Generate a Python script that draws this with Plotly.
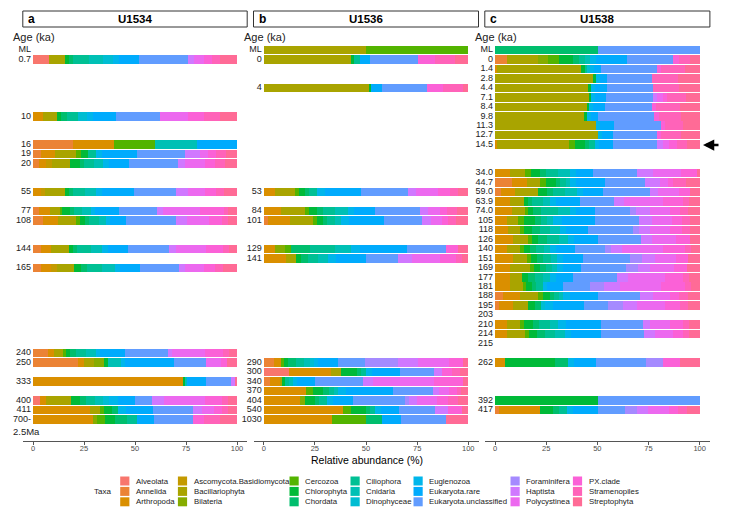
import math
import plotly.graph_objects as go

TAXA = ["Alveolata", "Annelida", "Arthropoda", "Ascomycota.Basidiomycota",
        "Bacillariophyta", "Bilateria", "Cercozoa", "Chlorophyta", "Chordata",
        "Ciliophora", "Cnidaria", "Dinophyceae", "Euglenozoa", "Eukaryota.rare",
        "Eukaryota.unclassified", "Foraminifera", "Haptista", "Polycystinea",
        "PX.clade", "Stramenopiles", "Streptophyta"]

# y slots of each site ("" = empty row)
A_LEVELS = ["ML", "0.7", "", "", "", "", "", "10", "", "", "16", "19", "20", "", "",
            "55", "", "77", "108", "", "", "144", "", "165", "", "", "", "", "", "",
            "", "", "240", "250", "", "333", "", "400", "411", "700-", ""]
B_LEVELS = ["ML", "0", "", "", "4", "", "", "", "", "", "", "", "", "", "",
            "53", "", "84", "101", "", "", "129", "141", "", "", "", "", "", "", "",
            "", "", "", "290", "300", "340", "370", "404", "540", "1030", ""]
C_LEVELS = ["ML", "0", "1.4", "2.8", "4.4", "7.1", "8.4", "9.8", "11.3", "12.7", "14.5",
            "", "", "34.0", "44.7", "59.0", "63.9", "74.0", "105", "118", "126", "140",
            "151", "169", "177", "181", "188", "195", "203", "210", "214", "215", "",
            "262", "", "", "", "392", "417", "", ""]

# relative abundance (%) per sample, columns in TAXA order
A_AGES = ["0.7", "10", "16", "19", "20", "55", "77", "108", "144", "165",
          "240", "250", "333", "400", "411", "700-"]
A_VALUES = [
    [7.7, 0, 0, 0, 7.8, 0, 0, 2, 2, 8, 7, 4.7, 3, 9.7, 24, 0, 3, 5, 4, 4, 8.1],
    [0, 0, 4.9, 0, 6.9, 0, 0, 2.1, 3, 5, 0, 4.6, 3, 11.4, 21.3, 0, 0, 14, 7.6, 8, 8.2],
    [0, 19.6, 20.2, 0, 0, 0, 20.2, 0, 0, 0, 20.2, 0, 0, 19.8, 0, 0, 0, 0, 0, 0, 0],
    [0, 4, 6.6, 0, 10.7, 0, 2, 3.7, 0, 4, 0, 0, 3, 17.2, 23.4, 0, 7.2, 4, 4, 5, 5.2],
    [0, 3, 3.5, 3, 8.5, 0, 0, 4.9, 2, 5, 4.5, 0, 2.7, 10, 23.8, 0, 3.6, 10, 4.7, 5, 5.8],
    [0, 0, 4.1, 2, 9.4, 0, 0, 2, 2.1, 6, 5.4, 0, 3, 15.4, 20.5, 0, 6.2, 8, 5.6, 4, 6.3],
    [0, 3, 5.2, 0, 4.9, 0, 1, 3.9, 2, 4, 4.6, 0, 2, 11.6, 18.7, 0, 3, 18, 11.7, 2, 4.4],
    [0, 5, 7.3, 0, 9, 0, 1.5, 2.6, 2, 5, 3.3, 0, 2, 7.8, 24.4, 0, 5.4, 11, 6.5, 3, 4.2],
    [0, 4, 5, 0, 8.5, 0, 0, 2.1, 2, 7, 5, 0, 3, 10, 20.2, 0, 3.2, 15, 8, 3, 4],
    [0, 4, 4.7, 3, 8.3, 0, 0, 3.7, 3, 7, 6.4, 0, 2.3, 10, 19.3, 0, 3, 9, 5.5, 4, 6.8],
    [0, 7.4, 3, 0, 4.3, 0, 1.3, 2, 3, 5, 5, 0, 2, 12, 21.3, 0, 2, 16, 8.7, 3, 4],
    [0, 22, 3, 0, 5, 5, 0, 2, 0, 0, 6, 0, 2, 24, 16, 0, 0, 7, 3, 0, 5],
    [0, 0, 73.3, 0, 0, 0, 0, 1.5, 0, 0, 0.8, 0, 0, 9.2, 12.2, 0, 2, 0, 0, 0, 1],
    [3.3, 0, 3.2, 0, 12.3, 0, 0, 4.1, 3, 4.5, 4, 3, 4.3, 8.2, 8.2, 0, 6, 20, 8.4, 3, 4.5],
    [0, 0, 27.8, 0, 4.9, 0, 2, 3.8, 3.2, 0, 0, 0, 4, 12.9, 20, 0, 4, 6, 3.9, 3, 4.5],
    [0, 0, 29.5, 0, 0, 2, 3.7, 4.9, 6, 5, 0, 0, 0, 8.1, 19, 0, 0, 0, 5.6, 8, 8.2],
]

B_AGES = ["ML", "0", "4", "53", "84", "101", "129", "141",
          "290", "300", "340", "370", "404", "540", "1030"]
B_VALUES = [
    [0, 0, 0, 0, 49.9, 0, 50.1, 0, 0, 0, 0, 0, 0, 0, 0, 0, 0, 0, 0, 0, 0],
    [0, 0, 0, 0, 42.6, 0, 0, 1.6, 0, 2.8, 0, 0, 0, 4.9, 23.6, 0, 0, 0, 8, 10, 6.5],
    [0, 0, 0, 0, 51.5, 0, 0, 0.9, 0, 0, 0, 0, 0, 5.2, 22, 0, 0, 0, 8, 9.9, 2.5],
    [0, 0, 5.4, 0, 9.8, 0, 2, 2.9, 2, 3.7, 0, 0, 4, 17.7, 22.8, 0, 4, 11, 5.7, 4, 5],
    [0, 0, 8.6, 0, 11.5, 0, 2, 3.7, 3, 6, 6.5, 0, 3, 10, 22, 0, 4.1, 6, 3, 5, 5.6],
    [0, 2.1, 10.6, 0, 11.4, 0, 2, 2.9, 2, 3.7, 3, 0, 4, 17, 18.8, 0, 4.5, 5, 3.2, 4, 5.8],
    [0, 0, 5.7, 0, 0, 4.6, 3.2, 0, 9, 12.2, 8.2, 0, 4, 22.9, 19.1, 0, 0, 0, 5.9, 0, 5.2],
    [0, 0, 11.1, 0, 4.9, 0, 0, 2.4, 3, 5, 4.8, 0, 4, 15, 15.2, 0, 6.9, 14, 7.5, 3, 3.2],
    [0, 5.1, 3.5, 0, 0, 0, 1.5, 1.8, 4, 3.6, 3, 2, 2, 9.9, 13, 16, 10.1, 15, 6.7, 0, 2.8],
    [12.2, 0, 20.9, 0, 4.6, 0, 0, 7.7, 2, 2.4, 0, 0, 3, 13.8, 16.8, 0, 3.6, 0, 4.8, 4, 4.2],
    [0, 3, 4.8, 0, 1.2, 0, 0, 1.3, 0, 2, 2.1, 0, 2, 8.6, 23.3, 0, 5, 30, 14.3, 0, 2.4],
    [0, 0, 20.9, 0, 0, 0, 3, 5.1, 3, 2.4, 2, 0, 4, 22.9, 19.6, 0, 2.7, 5, 3.7, 2, 3.7],
    [0, 0, 17.6, 0, 0, 2.5, 0, 4.9, 2, 3.7, 0, 0, 3, 10, 25.3, 2, 3.7, 10, 5.2, 5, 5.1],
    [0, 0, 38.8, 0, 0, 0, 4, 7, 2, 2.5, 0, 0, 3, 8.8, 17.6, 0, 6.5, 0, 6.5, 0, 3.3],
    [0, 0, 33.4, 0, 0, 0, 16.4, 0, 7.8, 0, 0, 0, 0, 9.4, 21.9, 0, 0, 0, 0, 0, 11.1],
]

C_AGES = ["ML", "0", "1.4", "2.8", "4.4", "7.1", "8.4", "9.8", "11.3", "12.7", "14.5",
          "34.0", "44.7", "59.0", "63.9", "74.0", "105", "118", "126", "140", "151",
          "169", "177", "181", "188", "195", "210", "214", "262", "392", "417"]
C_VALUES = [
    [0, 0, 0, 0, 0, 0, 0, 0, 50.2, 0, 0, 0, 0, 0, 49.8, 0, 0, 0, 0, 0, 0],
    [0, 5.7, 0, 0, 15.5, 4.9, 5, 6.8, 3, 3, 2.5, 0, 3, 14.9, 22.5, 0, 0, 0, 3, 5.5, 4.7],
    [0, 0, 0.8, 0, 41.2, 0, 0, 2, 0, 1, 0, 1.6, 2, 3, 27.4, 0, 0, 0, 2, 12, 7],
    [0, 0, 0, 0, 48, 0, 0, 1.3, 0, 0, 0, 0, 2, 3.6, 21.6, 0, 0, 0, 0, 13, 10.5],
    [0, 0, 0, 0, 45.6, 0, 0, 1.1, 0, 0, 0, 0, 2, 5.9, 22.4, 0, 0, 0, 0, 13, 10],
    [0, 0, 0, 0, 45.9, 0, 0, 0.8, 0, 0, 0, 0, 2, 5.5, 22.8, 0, 2, 3.2, 2, 9, 6.8],
    [0, 0, 0, 0, 44.8, 0, 0, 1.3, 0, 0, 0, 0, 2, 5.6, 22.8, 0, 0, 0, 2, 12, 9.5],
    [0, 0, 0, 0, 43.6, 0, 0, 1.2, 0, 0, 0, 0, 2, 3.7, 27.4, 0, 0, 0, 2, 11, 9.1],
    [0, 0, 0, 0, 49.3, 0, 0, 0, 0, 0, 0, 0, 2, 7, 22.6, 0, 0, 0, 2, 9, 8.1],
    [0, 0, 0, 0, 50.2, 0, 0, 0, 0, 0, 0, 0, 2, 5.3, 21.5, 0, 0, 0, 2, 10, 9],
    [0, 0, 0.8, 0, 35.5, 0, 3, 4.7, 2, 2.9, 0, 0, 2, 6.6, 21.5, 0, 3.2, 3, 3.6, 5, 6.2],
    [0, 0, 7.3, 0, 7.4, 0, 3, 4.3, 3, 6, 5.6, 0, 3, 8.1, 21.5, 0, 7.8, 14, 7.5, 0, 1.5],
    [0, 8.1, 7.4, 0, 6.5, 0, 3, 4.8, 2, 2.8, 2, 0, 3, 14.1, 19.6, 0, 7.3, 4, 2.5, 6, 6.9],
    [0, 3, 6.8, 0, 11.4, 0, 0, 4, 3, 6, 5.7, 0, 3, 10, 22.8, 0, 4.1, 10, 5.5, 0, 4.7],
    [0, 0, 7.3, 0, 6.9, 0, 0, 2.1, 2, 5, 3.6, 0, 3, 11.6, 16.6, 0, 4.9, 19, 10, 3, 5],
    [0, 0, 8.1, 0, 6.6, 0, 1.5, 2.5, 4, 8, 5.9, 0, 3, 9.3, 17.1, 3, 6.7, 10, 4.7, 4, 5.6],
    [0, 0, 5.7, 0, 5.7, 0, 3, 5.1, 3, 3, 3, 0, 4, 16.4, 21.6, 0, 6, 10, 4.7, 4, 4.8],
    [0, 0, 6.5, 0, 5.7, 0, 2, 3.7, 4, 5, 4.9, 0, 3, 10.8, 21.7, 3, 5.4, 10, 5.5, 4, 4.8],
    [0, 0, 9, 0, 7.3, 0, 2, 2.9, 4, 6, 4.6, 0, 3, 11.7, 20.7, 0, 5.3, 12, 6.8, 0, 4.7],
    [0, 0, 5.7, 0, 6.5, 0, 2, 2.9, 3, 4, 2.8, 0, 3, 9.2, 14.6, 3, 5.2, 20, 10.9, 3, 4.2],
    [0, 0, 9, 0, 6.5, 0, 2, 2.9, 3, 4, 2.7, 0, 3, 10.1, 22.8, 6, 6.2, 10, 6.3, 0, 5.5],
    [0, 0, 7.3, 0, 9.8, 0, 2, 2.9, 3, 3, 2.1, 0, 3, 8.8, 22.1, 6, 5.7, 12, 5.9, 0, 6.4],
    [0, 0, 7.3, 0, 5.7, 0, 0, 3.3, 3, 4, 3.6, 0, 3, 8.4, 21.1, 0, 5.7, 18, 8.9, 3, 5],
    [0, 0, 7.3, 0, 6.5, 0, 1.5, 2.6, 2, 3.7, 0, 0, 2, 7.8, 13, 7, 7.7, 20, 11.7, 3, 4.2],
    [0, 4, 8.2, 0, 9, 0, 2, 3.7, 2, 2.5, 2, 0, 3, 13.8, 20.6, 0, 6.6, 8, 4.7, 4, 5.9],
    [0, 2, 7, 0, 7.3, 0, 0, 3, 3, 0, 0, 2, 4, 15.2, 11.9, 7, 6.8, 14, 7.2, 4, 5.6],
    [0, 0, 5.7, 0, 6.5, 0, 2, 4.5, 3, 5, 4.2, 0, 4, 16.7, 20.5, 0, 3.6, 10, 6.3, 3, 5],
    [0, 0, 5.7, 0, 9, 0, 2, 3.7, 4, 5, 4.8, 0, 3, 14.4, 21.2, 0, 5.4, 9, 4.8, 3, 5],
    [0, 0, 4.9, 0, 0, 0, 0, 24.4, 6.5, 0, 0, 0, 3, 10.5, 24.5, 8.4, 0, 0, 8.2, 0, 9.6],
    [0, 0, 0, 0, 0, 0, 0, 50.2, 0, 0, 0, 0, 0, 0, 49.8, 0, 0, 0, 0, 0, 0],
    [0, 2, 20, 0, 0, 0, 0, 6.5, 3, 3.5, 0, 0, 3, 12.2, 13.3, 6, 5.4, 10, 4.7, 4, 6.4],
]

PANELS = [("a", "U1534", A_LEVELS, A_AGES, A_VALUES),
          ("b", "U1536", B_LEVELS, B_AGES, B_VALUES),
          ("c", "U1538", C_LEVELS, C_AGES, C_VALUES)]

# page body has an 8px margin, so the figure is placed 8px in
OFF = 8
W, H = 737 - OFF, 511 - OFF
FONT = "Liberation Sans, Arial, sans-serif"


def hue_pal(n, c=100, l=65):
    # ggplot2 default discrete palette (hcl, CIE-LUV)
    xn, yn, zn = 95.047, 100.0, 108.883
    un = 4 * xn / (xn + 15 * yn + 3 * zn)
    vn = 9 * yn / (xn + 15 * yn + 3 * zn)
    out = []
    for i in range(n):
        h = math.radians(15 + 360 * i / n)
        u = c * math.cos(h) / (13 * l) + un
        v = c * math.sin(h) / (13 * l) + vn
        y = yn * ((l + 16) / 116) ** 3
        x = 9 * y * u / (4 * v)
        z = y * (12 - 3 * u - 20 * v) / (4 * v)
        x, y, z = x / 100, y / 100, z / 100
        rgb = [3.240479 * x - 1.537150 * y - 0.498535 * z,
               -0.969256 * x + 1.875992 * y + 0.041556 * z,
               0.055648 * x - 0.204043 * y + 1.057311 * z]
        res = []
        for ch in rgb:
            ch = 12.92 * ch if ch <= 0.0031308 else 1.055 * ch ** (1 / 2.4) - 0.055
            res.append(int(round(min(max(ch, 0), 1) * 255)))
        out.append("#%02X%02X%02X" % tuple(res))
    return out


COLORS = hue_pal(len(TAXA))


def px_x(x):
    return (x - OFF) / W


def px_y(y):
    return 1 - (y - OFF) / H


x_doms = [(22.8, 247.2), (253.5, 478.5), (484.8, 709.9)]
y_dom = [px_y(440.7), px_y(28)]

fig = go.Figure()
shapes = []
annotations = []

for k, (letter, site, levels, ages, values) in enumerate(PANELS):
    ax = "" if k == 0 else str(k + 1)
    slots = [levels.index(a) for a in ages]
    for j, taxon in enumerate(TAXA):
        fig.add_trace(go.Bar(
            x=[row[j] for row in values], y=slots, orientation="h",
            width=0.9, name=taxon, marker=dict(color=COLORS[j], line=dict(width=0)),
            showlegend=False, xaxis="x" + ax, yaxis="y" + ax,
            hovertemplate=taxon + ": %{x}%<extra></extra>"))
    lab_y = [i for i, s in enumerate(levels) if s]
    fig.add_trace(go.Scatter(
        x=[-1] * len(lab_y), y=lab_y, text=[levels[i] for i in lab_y],
        mode="text", textposition="middle left", cliponaxis=False,
        textfont=dict(family=FONT, size=9, color="#222222"),
        showlegend=False, hoverinfo="skip", xaxis="x" + ax, yaxis="y" + ax))

    d0, d1 = x_doms[k]
    fig.update_layout(**{
        "xaxis" + ax: dict(domain=[px_x(d0), px_x(d1)], range=[-5, 105],
                           tickvals=[0, 25, 50, 75, 100], showline=True,
                           linecolor="#555555", linewidth=1, ticks="outside",
                           ticklen=3, tickcolor="#555555", showgrid=False,
                           ticklabelstandoff=-3,
                           zeroline=False, anchor="y" + ax, automargin=False,
                           tickfont=dict(family=FONT, size=7.5, color="#4d4d4d")),
        "yaxis" + ax: dict(domain=y_dom, range=[41.26, -2.32], visible=False,
                           anchor="x" + ax, automargin=False),
    })

    # strip header
    shapes.append(dict(type="rect", xref="paper", yref="paper",
                       x0=px_x(d0), x1=px_x(d1), y0=px_y(27), y1=px_y(11),
                       line=dict(color="#333333", width=1), fillcolor="white"))
    annotations.append(dict(text="<b>%s</b>" % letter, xref="paper", yref="paper",
                            x=px_x(d0 + 3), y=px_y(19), xanchor="left", yanchor="middle",
                            showarrow=False, font=dict(family=FONT, size=12, color="black")))
    annotations.append(dict(text="<b>%s</b>" % site, xref="paper", yref="paper",
                            x=px_x((d0 + d1) / 2), y=px_y(19), xanchor="center",
                            yanchor="middle", showarrow=False,
                            font=dict(family=FONT, size=11.5, color="black")))
    annotations.append(dict(text="Age (ka)", xref="paper", yref="paper",
                            x=px_x(d0 - 12), y=px_y(37), xanchor="left", yanchor="middle",
                            showarrow=False, font=dict(family=FONT, size=11, color="#222222")))

# second line of the oldest U1534 label
annotations.append(dict(text="2.5Ma", xref="paper", yref="paper", x=px_x(11),
                        y=px_y(431), xanchor="left", yanchor="middle", showarrow=False,
                        font=dict(family=FONT, size=9.5, color="#222222")))

# x axis title
annotations.append(dict(text="Relative abundance (%)", xref="paper", yref="paper",
                        x=px_x(367), y=px_y(460), xanchor="center", yanchor="middle",
                        showarrow=False, font=dict(family=FONT, size=10.5, color="black")))

# arrow marking U1538 14.5 ka
annotations.append(dict(text="", xref="paper", yref="paper", x=px_x(703), y=px_y(145),
                        ax=17, ay=0, showarrow=True, arrowhead=2, arrowsize=0.9,
                        arrowwidth=2.5, arrowcolor="black"))

# legend (three rows per column)
lab_x = [134, 191.7, 303.3, 364.3, 427.3, 524.3, 586.7]
row_y = [481, 491.4, 501.8]
annotations.append(dict(text="Taxa", xref="paper", yref="paper", x=px_x(113),
                        y=px_y(491.4), xanchor="right", yanchor="middle", showarrow=False,
                        font=dict(family=FONT, size=8, color="#222222")))
for j, taxon in enumerate(TAXA):
    col, row = j // 3, j % 3
    lx, ly = lab_x[col], row_y[row]
    shapes.append(dict(type="rect", xref="paper", yref="paper",
                       x0=px_x(lx - 13.8), x1=px_x(lx - 4.6),
                       y0=px_y(ly + 4.5), y1=px_y(ly - 4.5),
                       line=dict(width=0), fillcolor=COLORS[j]))
    annotations.append(dict(text=taxon, xref="paper", yref="paper", x=px_x(lx),
                            y=px_y(ly), xanchor="left", yanchor="middle", showarrow=False,
                            font=dict(family=FONT, size=7.8, color="#222222")))

fig.update_layout(
    width=W, height=H, barmode="stack",
    margin=dict(l=0, r=0, t=0, b=0),
    paper_bgcolor="white", plot_bgcolor="white",
    shapes=shapes, annotations=annotations,
    font=dict(family=FONT),
)

fig.write_html("out.html")
